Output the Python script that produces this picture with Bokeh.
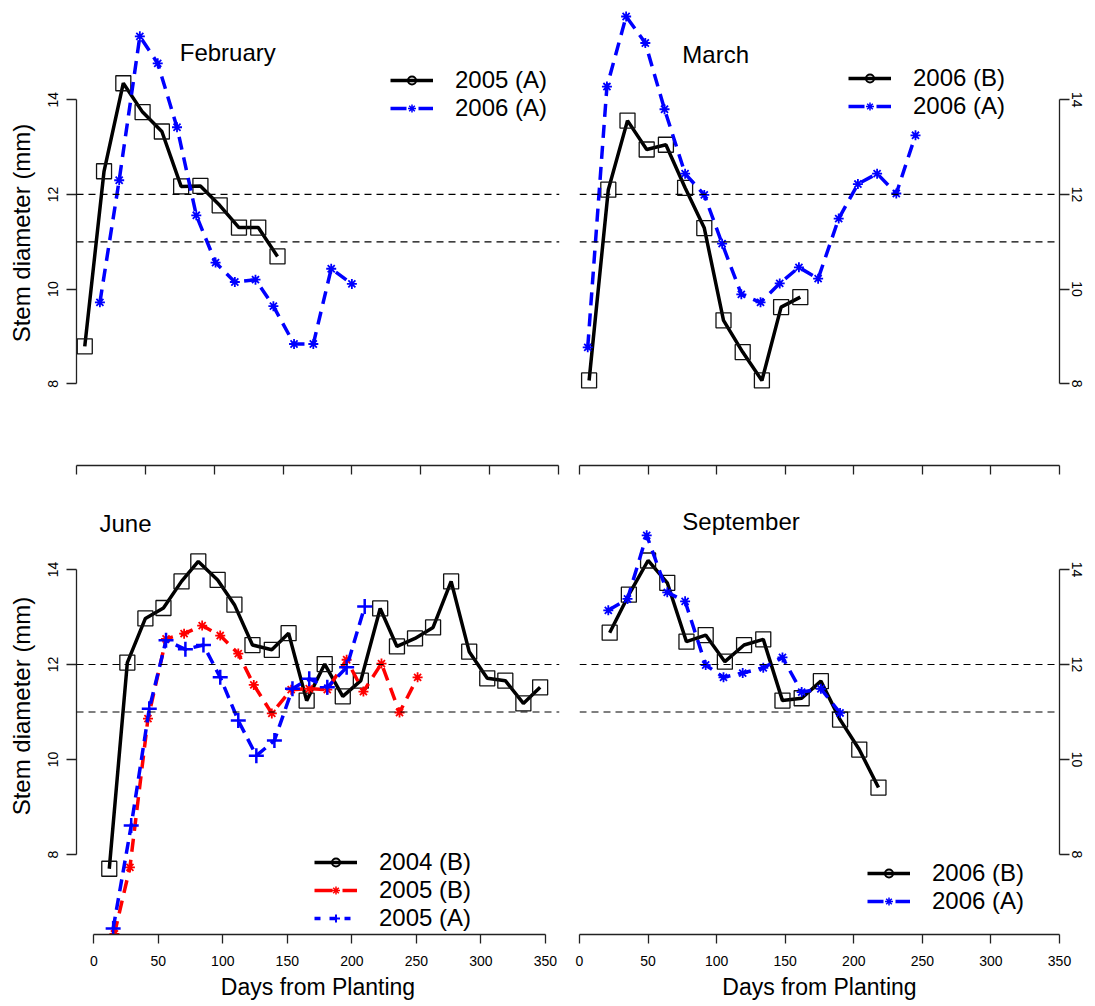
import math
from bokeh.plotting import figure
from bokeh.layouts import column, row
from bokeh.models import Span, Legend, LegendItem, Range1d, LinearAxis, FixedTicker, Label, Grid
from bokeh.embed import file_html
from bokeh.resources import INLINE

FONT = "Liberation Sans"

# ---------------- data ----------------
feb_2005A_days = [6, 20, 34, 48, 62, 76, 90, 104, 118, 132, 146]
feb_2005A_vals = [8.79, 12.49, 14.35, 13.74, 13.33, 12.17, 12.18, 11.77, 11.30, 11.30, 10.69]
feb_2006A_days = [17, 31, 46, 59, 73, 87, 101, 115, 130, 143, 158, 172, 185, 200]
feb_2006A_vals = [9.72, 12.30, 15.34, 14.77, 13.42, 11.56, 10.56, 10.15, 10.20, 9.64, 8.84, 8.84, 10.43, 10.11]

mar_2006B_days = [7, 21, 35, 49, 63, 77, 91, 105, 119, 133, 147, 161]
mar_2006B_vals = [8.07, 12.10, 13.56, 12.95, 13.05, 12.14, 11.29, 9.34, 8.67, 8.07, 9.62, 9.83]
mar_2006A_days = [6, 20, 34, 48, 62, 77, 91, 104, 118, 132, 146, 160, 174, 189, 203, 217, 231, 245]
mar_2006A_vals = [8.77, 14.28, 15.76, 15.20, 13.80, 12.44, 11.99, 10.96, 9.89, 9.72, 10.12, 10.46, 10.22,
                  11.49, 12.22, 12.44, 12.02, 13.25]

jun_2004B_days = [12, 26, 40, 54, 68, 81, 96, 109, 123, 138, 151, 165, 179, 193, 207, 222, 235, 249,
                  263, 277, 291, 305, 319, 333, 346]
jun_2004B_vals = [7.70, 12.04, 12.97, 13.19, 13.75, 14.17, 13.78, 13.26, 12.41, 12.31, 12.66, 11.24,
                  12.01, 11.33, 11.66, 13.18, 12.38, 12.55, 12.78, 13.75, 12.27, 11.71, 11.66, 11.18, 11.52]
jun_2005B_days = [16, 28, 42, 56, 70, 84, 98, 112, 124, 138, 153, 167, 181, 196, 209, 223, 237, 251]
jun_2005B_vals = [6.33, 7.73, 10.86, 12.54, 12.65, 12.82, 12.61, 12.23, 11.57, 10.97, 11.47, 11.49,
                  11.47, 12.10, 11.43, 12.02, 10.99, 11.73]
jun_2005A_days = [15, 29, 43, 56, 71, 85, 98, 112, 126, 140, 154, 167, 181, 196, 210]
jun_2005A_vals = [6.44, 8.61, 11.07, 12.51, 12.32, 12.41, 11.73, 10.82, 10.08, 10.40, 11.49, 11.70,
                  11.52, 11.94, 13.22]

sep_2006B_days = [22, 36, 50, 64, 78, 92, 106, 120, 134, 148, 162, 176, 190, 204, 218]
sep_2006B_vals = [12.67, 13.47, 14.19, 13.72, 12.48, 12.62, 12.06, 12.41, 12.53, 11.24, 11.29, 11.65,
                  10.84, 10.21, 9.41]
sep_2006A_days = [21, 35, 49, 64, 77, 92, 105, 119, 134, 148, 162, 176, 190]
sep_2006A_vals = [13.14, 13.38, 14.72, 13.52, 13.33, 11.99, 11.73, 11.82, 11.93, 12.15, 11.42, 11.49, 10.98]

x_ticks = [0, 50, 100, 150, 200, 250, 300, 350]
y_ticks = [8, 10, 12, 14]
ref_lines = [11, 12]
month_names = ["February", "March", "June", "September"]

BLACK = "black"
BLUE = "#0000ff"
RED = "#ff0000"


def make_fig(xr, yr, fw, fh, bl, br, bt, bb):
    p = figure(frame_width=fw, frame_height=fh, x_range=Range1d(*xr), y_range=Range1d(*yr),
               output_backend="svg", toolbar_location=None, x_axis_location=None,
               y_axis_location=None, title_location=None,
               min_border_left=bl, min_border_right=br, min_border_top=bt, min_border_bottom=bb)
    p.center = [c for c in p.center if not isinstance(c, Grid)]
    p.outline_line_color = None
    p.background_fill_color = "white"
    p.border_fill_color = "white"
    for v in ref_lines:
        p.add_layout(Span(location=v, dimension="width", line_color="black", line_width=1.2,
                          line_dash="7 5"))
    return p


def x_axis(p, labels, title=None):
    ax = LinearAxis(ticker=FixedTicker(ticks=x_ticks), bounds=(0, 350))
    ax.major_tick_out = 9
    ax.major_tick_in = 0
    ax.minor_tick_out = 0
    ax.minor_tick_in = 0
    ax.axis_line_width = 1.3
    ax.major_tick_line_width = 1.3
    ax.axis_line_color = "#222222"
    ax.major_tick_line_color = "#222222"
    if labels:
        ax.major_label_text_font = FONT
        ax.major_label_text_font_size = "14px"
        ax.major_label_standoff = 12
        ax.major_label_text_color = "black"
    else:
        ax.major_label_text_font_size = "0px"
        ax.major_label_standoff = 0
        ax.major_label_text_color = None
    if title:
        ax.axis_label = title
        ax.axis_label_text_font = FONT
        ax.axis_label_text_font_size = "23px"
        ax.axis_label_text_font_style = "normal"
        ax.axis_label_standoff = 5
        ax.axis_label_text_color = "black"
    p.add_layout(ax, "below")


def y_axis(p, side, title=None):
    ax = LinearAxis(ticker=FixedTicker(ticks=y_ticks), bounds=(8, 14))
    ax.major_tick_out = 10
    ax.major_tick_in = 0
    ax.minor_tick_out = 0
    ax.minor_tick_in = 0
    ax.axis_line_width = 1.3
    ax.major_tick_line_width = 1.3
    ax.axis_line_color = "#222222"
    ax.major_tick_line_color = "#222222"
    ax.major_label_text_font = FONT
    ax.major_label_text_font_size = "14px"
    ax.major_label_orientation = "vertical"
    ax.major_label_standoff = 8 if side == "left" else 2
    ax.major_label_text_color = "black"
    if title:
        ax.axis_label = title
        ax.axis_label_text_font = FONT
        ax.axis_label_text_font_size = "24px"
        ax.axis_label_text_font_style = "normal"
        ax.axis_label_standoff = 11
        ax.axis_label_text_color = "black"
    p.add_layout(ax, side)


def series_black(p, d, v):
    p.line(d, v, line_color=BLACK, line_width=3.5)
    p.scatter(d, v, marker="square", size=15, fill_color=None, line_color="#111111", line_width=1.3)


def series_star(p, d, v, color, dash):
    p.line(d, v, line_color=color, line_width=3.5, line_dash=dash)
    p.scatter(d, v, marker="asterisk", size=10, line_color=color, line_width=1.8)


def series_cross(p, d, v, color, dash):
    p.line(d, v, line_color=color, line_width=3.5, line_dash=dash)
    p.scatter(d, v, marker="cross", size=15, line_color=color, line_width=2.5)


def add_legend(p, entries, loc):
    items = []
    for label, color, dash, marker, msize, mlw in entries:
        lr = p.line(x=[-999, -998], y=[-999, -999], line_color=color, line_width=3.5, line_dash=dash)
        sr = p.scatter(x=[-999], y=[-999], marker=marker, size=msize, line_color=color,
                       fill_color=None, line_width=mlw)
        items.append(LegendItem(label=label, renderers=[lr, sr]))
    leg = Legend(items=items, location=loc, padding=0, margin=0, spacing=0,
                 glyph_width=43, glyph_height=20, label_height=20, label_standoff=22,
                 label_text_font=FONT, label_text_font_size="24px", label_text_color="black",
                 border_line_color=None, background_fill_alpha=0)
    p.add_layout(leg)


def month_label(p, x, y, text):
    p.add_layout(Label(x=x, y=y, text=text, text_font=FONT, text_font_size="24px",
                       text_baseline="middle", text_align="left", text_color="black"))


# pixel geometry (frames)
TOP_Y = (6.273, 16.098)
BOT_Y = (6.316, 15.937)

# --- February (top-left)
p1 = make_fig((0, 350.8), TOP_Y, 483, 465, 76, 10, 0, 12)
series_black(p1, feb_2005A_days, feb_2005A_vals)
series_star(p1, feb_2006A_days, feb_2006A_vals, BLUE, "13 8")
y_axis(p1, "left", "Stem diameter (mm)")
x_axis(p1, False)
month_label(p1, 75, 15.0, month_names[0])
add_legend(p1, [("2005 (A)", BLACK, "solid", "circle", 10, 2),
                ("2006 (A)", BLUE, "16 12", "asterisk", 7, 1.5)], (314, 343))

# --- March (top-right)
p2 = make_fig((0, 350), TOP_Y, 480, 465, 10, 28, 0, 12)
series_black(p2, mar_2006B_days, mar_2006B_vals)
series_star(p2, mar_2006A_days, mar_2006A_vals, BLUE, "13 8")
y_axis(p2, "right")
x_axis(p2, False)
month_label(p2, 75, 14.96, month_names[1])
add_legend(p2, [("2006 (B)", BLACK, "solid", "circle", 10, 2),
                ("2006 (A)", BLUE, "16 12", "asterisk", 7, 1.5)], (269, 345))

# --- June (bottom-left)
p3 = make_fig((-13.41, 361.0), BOT_Y, 483, 457, 76, 10, 0, 69)
series_black(p3, jun_2004B_days, jun_2004B_vals)
series_star(p3, jun_2005B_days, jun_2005B_vals, RED, "13 8")
series_cross(p3, jun_2005A_days, jun_2005A_vals, BLUE, "12 7")
y_axis(p3, "left", "Stem diameter (mm)")
x_axis(p3, True, "Days from Planting")
month_label(p3, 4.4, 14.97, month_names[2])
add_legend(p3, [("2004 (B)", BLACK, "solid", "circle", 10, 2),
                ("2005 (B)", RED, "18 10", "asterisk", 7, 1.5),
                ("2005 (A)", BLUE, "6 9", "cross", 11, 2)], (238, 2))

# --- September (bottom-right)
p4 = make_fig((0, 350), BOT_Y, 480, 457, 10, 28, 0, 69)
series_black(p4, sep_2006B_days, sep_2006B_vals)
series_star(p4, sep_2006A_days, sep_2006A_vals, BLUE, "13 8")
y_axis(p4, "right")
x_axis(p4, True, "Days from Planting")
month_label(p4, 75, 15.01, month_names[3])
add_legend(p4, [("2006 (B)", BLACK, "solid", "circle", 10, 2),
                ("2006 (A)", BLUE, "16 12", "asterisk", 7, 1.5)], (288, 19))

layout = column(row(p1, p2), row(p3, p4))
open("out.html", "w").write(file_html(layout, INLINE))
